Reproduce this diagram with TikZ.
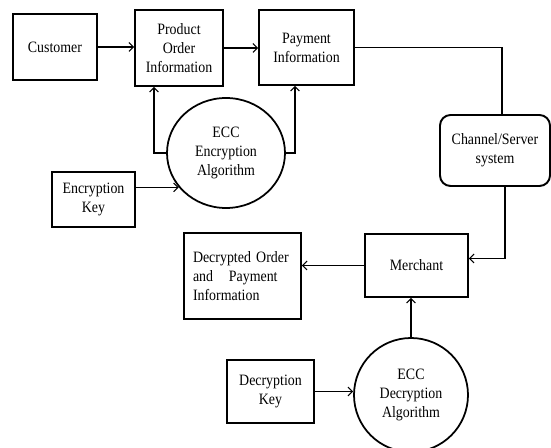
\documentclass[tikz,border=0pt]{standalone}
\usepackage{fontspec}
\setmainfont[FakeStretch=0.88]{Liberation Serif}
\usetikzlibrary{shapes.geometric,calc,arrows.meta}
\begin{document}
\begin{tikzpicture}[x=.02cm,y=-.02cm,font=\fontsize{9}{10.8}\selectfont,
  >={Straight Barb[length=2.5pt,width=5pt]},
  blk/.style 2 args={draw,line width=1.1pt,minimum width=#1*.02cm,minimum height=#2*.02cm,inner sep=1pt,align=center},
  algo/.style 2 args={draw,ellipse,line width=1pt,minimum width=#1*.02cm,minimum height=#2*.02cm,inner sep=0pt,align=center},
  wire/.style={line width=.6pt},
  flow/.style={wire,->}]
  \useasboundingbox (0,0) rectangle (551,448);
  % top row
  \node[blk={84}{66}] (cust) at (55,47) {Customer};
  \node[blk={88}{76}] (prod) at (179,48) {Product\\Order\\Information};
  \node[blk={95}{75}] (pay) at (306.5,47.5) {Payment\\Information};
  \node[blk={110}{71},rounded corners=6pt] (chan) at (495,150.5) {Channel/Server\\system};
  \node[algo={118}{110}] (enc) at (226,153) {ECC\\Encryption\\Algorithm};
  \node[blk={83}{55}] (enckey) at (93.5,199.5) {Encryption\\Key};
  % receiving side
  \node[blk={103}{63}] (merch) at (416.5,265.5) {Merchant};
  \node[blk={117}{86},align=left,text width=1.98cm] (decr) at (242.5,276) {Decrypted Order\\and\quad Payment\\Information\\[.35em]};
  \node[algo={114}{114}] (dec) at (411,395) {ECC\\Decryption\\Algorithm};
  \node[blk={87}{63}] (deckey) at (270.5,391.5) {Decryption\\Key};
  % connectors
  \draw[flow] (cust.east) -- (cust.east -| prod.west);
  \draw[flow] (prod.east) -- (prod.east -| pay.west);
  \draw[wire] (pay.east) -| ($(chan.north)+(7,0)$);
  \draw[flow] ($(chan.south)+(10,0)$) |- ($(merch.east)+(0,-7)$);
  \draw[flow] (merch.west) -- (merch.west -| decr.east);
  \draw[flow] (dec.north) -- (dec.north |- merch.south);
  \draw[flow] (deckey.east) -- (deckey.east -| dec.west);
  \draw[flow] (enckey.east |- enc.216) -- (enc.216);
  \draw[flow] (enc.west) -| ($(prod.south)+(-25,0)$);
  \draw[flow] (enc.east) -| ($(pay.south)+(-11.5,0)$);
\end{tikzpicture}
\end{document}
